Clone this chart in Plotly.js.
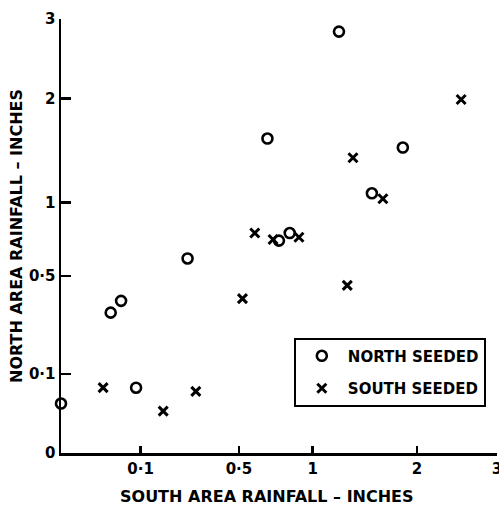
<!DOCTYPE html>
<html>
<head>
<meta charset="utf-8">
<script src="https://cdn.plot.ly/plotly-3.0.1.min.js"></script>
<style>html,body{margin:0;padding:0;background:#fff;}#chart{width:499px;height:508px;}</style>
</head>
<body>
<div id="chart"></div>
<script>
// Rainfall (inches), square-root scaled axes
const northSeededSouth = [0.0, 0.039, 0.057, 0.089, 0.253, 0.673, 0.75, 0.826, 1.22, 1.526, 1.845];
const northSeededNorth = [0.039, 0.314, 0.369, 0.068, 0.603, 1.576, 0.719, 0.771, 2.83, 1.075, 1.487];
const southSeededSouth = [0.028, 0.165, 0.287, 0.52, 0.593, 0.71, 0.894, 1.294, 1.346, 1.636, 2.528];
const southSeededNorth = [0.068, 0.028, 0.0605, 0.38, 0.771, 0.726, 0.742, 0.448, 1.389, 1.03, 1.992];
const xTickValues = [0.1, 0.5, 1, 2, 3];
const xTickLabels = ['0·1', '0·5', '1', '2', '3'];
const yTickValues = [0, 0.1, 0.5, 1, 2, 3];
const yTickLabels = ['0', '0·1', '0·5', '1', '2', '3'];
const xTitle = 'SOUTH AREA RAINFALL – INCHES';
const yTitle = 'NORTH AREA RAINFALL – INCHES';

const sq = a => a.map(v => Math.sqrt(v));
const FONT = 'DejaVu Sans';
const traces = [
  {x: sq(northSeededSouth), y: sq(northSeededNorth), type: 'scatter', mode: 'markers', name: 'NORTH SEEDED',
   legendgroup: 'n', cliponaxis: false,
   marker: {symbol: 'circle-open', size: 10, color: '#000', line: {width: 2.6, color: '#000'}}},
  {x: sq(southSeededSouth), y: sq(southSeededNorth), type: 'scatter', mode: 'markers', name: 'SOUTH SEEDED',
   legendgroup: 's', cliponaxis: false,
   marker: {symbol: 'x-thin-open', size: 9, color: '#000', line: {width: 3, color: '#000'}}}
];
const layout = {
  width: 499, height: 508,
  margin: {l: 61, r: 2, t: 19, b: 55},
  paper_bgcolor: '#fff', plot_bgcolor: '#fff',
  font: {family: FONT, color: '#000', size: 15, weight: 'bold'},
  showlegend: true,
  legend: {x: 0.534, y: 0.266, xanchor: 'left', yanchor: 'top', bordercolor: '#000', borderwidth: 2,
           bgcolor: '#fff', font: {family: FONT, size: 15, weight: 'bold', color: '#000'},
           itemwidth: 42, tracegroupgap: 10, entrywidth: 172},
  xaxis: {range: [0, 1.7325], tickvals: sq(xTickValues), ticktext: xTickLabels,
          showgrid: false, zeroline: false, showline: true, linecolor: '#000', linewidth: 2.5,
          ticks: 'inside', ticklen: 7, tickwidth: 2.5, tickcolor: '#000', ticklabeloverflow: 'allow',
          tickfont: {family: FONT, size: 15, weight: 'bold'}},
  yaxis: {range: [0, 1.7325], tickvals: sq(yTickValues), ticktext: yTickLabels,
          showgrid: false, zeroline: false, showline: true, linecolor: '#000', linewidth: 2.5,
          ticks: 'inside', ticklen: 10, tickwidth: 2.5, tickcolor: '#000', ticklabeloverflow: 'allow',
          tickfont: {family: FONT, size: 15, weight: 'bold'},
          title: {text: yTitle, font: {family: FONT, size: 16, weight: 'bold'}, standoff: 3}},
  annotations: [
    {text: xTitle, xref: 'paper', yref: 'paper', x: 0.4725, y: -0.101, xanchor: 'center', yanchor: 'middle',
     showarrow: false, font: {family: FONT, size: 16, weight: 'bold', color: '#000'}}
  ]
};
Plotly.newPlot('chart', traces, layout, {displayModeBar: false, staticPlot: true});
</script>
</body>
</html>
